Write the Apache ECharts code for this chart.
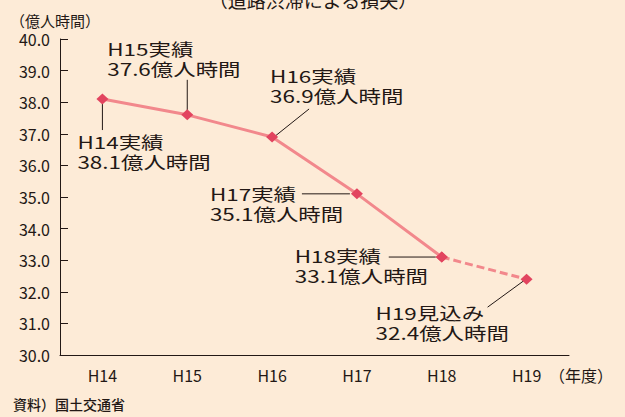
<!DOCTYPE html>
<html>
<head>
<meta charset="utf-8">
<script src="https://cdn.jsdelivr.net/npm/echarts@6/dist/echarts.min.js"></script>
<style>
html, body { margin: 0; padding: 0; background: #fdebd7; }
#chart { width: 625px; height: 417px; }
</style>
</head>
<body>
<div id="chart"></div>
<script>
// data
const years = ["H14", "H15", "H16", "H17", "H18", "H19"];
const actual = [38.1, 37.6, 36.9, 35.1, 33.1, null];
const forecast = [null, null, null, null, 33.1, 32.4];
const noteHead = ["H14実績", "H15実績", "H16実績", "H17実績", "H18実績", "H19見込み"];
const noteValue = [38.1, 37.6, 36.9, 35.1, 33.1, 32.4];

// annotation placement relative to each point: text offset, leader line from/to
const noteLayout = [
  { dx: -25, dy: 33, line: [0, 4, 0, 31] },
  { dx: -80, dy: -76, line: [0, -35, 0, -3] },
  { dx: -2, dy: -71, line: [37, -28, 2, 0] },
  { dx: -147, dy: -10, line: [-55, 0, -7, 0] },
  { dx: -147, dy: -11, line: [-53, 0, -6, 0] },
  { dx: -151, dy: 24, line: [-39, 28, -2, 1] },
];

const ink = "#231815";
const cjk = "'Noto Sans CJK JP', 'Noto Sans', sans-serif";

let chart = echarts.init(document.getElementById("chart"), null, { renderer: "svg" });

let option = {
  backgroundColor: "#fdebd7",
  animation: false,
  grid: { left: 60, right: 56, top: 39, bottom: 62 },
  xAxis: {
    type: "category",
    data: years,
    boundaryGap: true,
    axisLine: { lineStyle: { color: ink, width: 1 } },
    axisTick: { inside: true, length: 6, lineStyle: { color: ink } },
    axisLabel: { color: ink, fontSize: 16, margin: 12, fontFamily: cjk },
  },
  yAxis: {
    type: "value",
    min: 30,
    max: 40,
    interval: 1,
    axisLine: { show: true, lineStyle: { color: ink, width: 1 } },
    axisTick: { show: true, inside: true, length: 8, lineStyle: { color: ink } },
    splitLine: { show: false },
    axisLabel: {
      color: ink,
      fontSize: 16,
      margin: 10,
      fontFamily: cjk,
      formatter: (v) => v.toFixed(1),
    },
  },
  series: [
    {
      type: "line",
      data: actual,
      symbol: "diamond",
      symbolSize: [12, 11],
      lineStyle: { color: "#f2888c", width: 3 },
      itemStyle: { color: "#e2445f" },
      z: 3,
    },
    {
      type: "line",
      data: forecast,
      symbol: "diamond",
      symbolSize: [12, 11],
      lineStyle: { color: "#f2888c", width: 3, type: [8, 4] },
      itemStyle: { color: "#e2445f" },
      z: 2,
    },
  ],
};
chart.setOption(option);

// annotations follow the points through the chart's own scale
let graphics = [];
noteValue.forEach((v, i) => {
  let p = chart.convertToPixel({ seriesIndex: 0 }, [i, v]);
  let lay = noteLayout[i];
  graphics.push({
    type: "line",
    silent: true,
    shape: { x1: p[0] + lay.line[0], y1: p[1] + lay.line[1], x2: p[0] + lay.line[2], y2: p[1] + lay.line[3] },
    style: { stroke: ink, lineWidth: 1 },
  });
  graphics.push({
    type: "text",
    x: p[0] + lay.dx,
    y: p[1] + lay.dy,
    scaleX: 1.32,
    style: {
      text: noteHead[i] + "\n" + v.toFixed(1) + "億人時間",
      fill: ink,
      fontSize: 17,
      lineHeight: 20,
      fontFamily: cjk,
      textAlign: "left",
      textVerticalAlign: "top",
      align: "left",
      verticalAlign: "top",
    },
  });
});

graphics.push(
  {
    type: "text", x: 313, y: -1,
    style: { text: "（道路渋滞による損失）", fill: ink, fontSize: 19, fontFamily: cjk,
      textAlign: "center", textVerticalAlign: "middle", align: "center", verticalAlign: "middle" },
  },
  {
    type: "text", x: 10, y: 20,
    style: { text: "（億人時間）", fill: ink, fontSize: 15, fontFamily: cjk,
      textAlign: "left", textVerticalAlign: "middle", align: "left", verticalAlign: "middle" },
  },
  {
    type: "text", x: 549, y: 375,
    style: { text: "（年度）", fill: ink, fontSize: 16, fontFamily: cjk,
      textAlign: "left", textVerticalAlign: "middle", align: "left", verticalAlign: "middle" },
  },
  {
    type: "text", x: 13, y: 404,
    style: { text: "資料）国土交通省", fill: ink, fontSize: 14, fontWeight: 500, fontFamily: cjk,
      textAlign: "left", textVerticalAlign: "middle", align: "left", verticalAlign: "middle" },
  }
);

chart.setOption({ graphic: graphics });
</script>
</body>
</html>
